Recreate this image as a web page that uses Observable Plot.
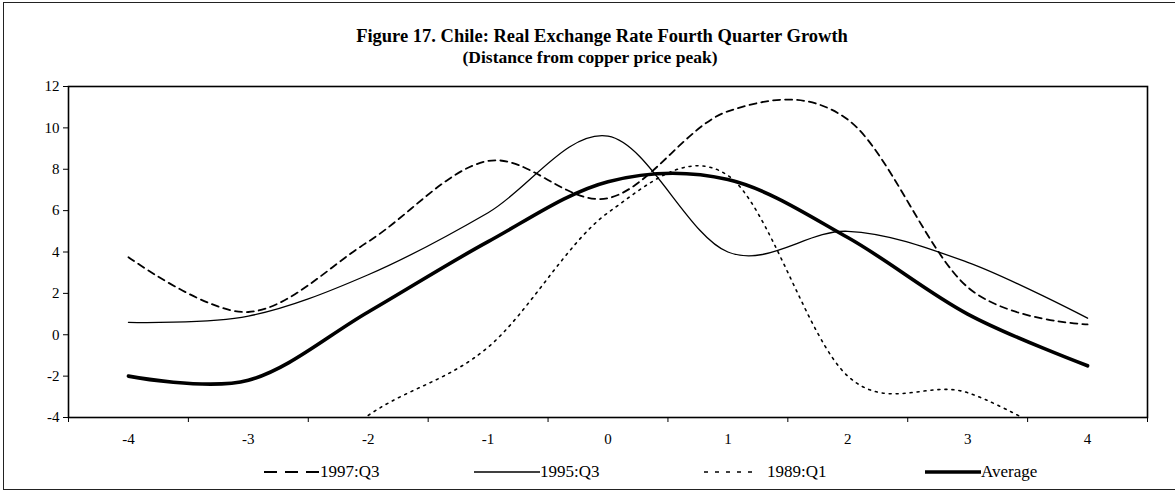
<!DOCTYPE html>
<html><head><meta charset="utf-8">
<script src="https://cdn.jsdelivr.net/npm/d3@7"></script>
<script src="https://cdn.jsdelivr.net/npm/@observablehq/plot@0.6"></script>
<style>
body{margin:0;background:#fff;}
#wrap{position:relative;width:1175px;height:495px;overflow:hidden;font-family:"Liberation Serif","Times New Roman",serif;color:#000;}
#border{position:absolute;left:3px;top:2px;width:1200px;height:486px;border:1.5px solid #222;}
.ttl{position:absolute;white-space:nowrap;font-weight:bold;line-height:20px;transform:translateX(-50%);}
#chart{position:absolute;left:0;top:0;}
.leg{position:absolute;top:462px;height:20px;display:flex;align-items:center;font-size:17px;white-space:nowrap;}
.leg svg{display:block;}
</style></head>
<body>
<div id="wrap">
  <div id="border"></div>
  <div id="chart"></div>
  <div class="ttl" style="left:602px;top:26px;font-size:18.5px;">Figure 17. Chile: Real Exchange Rate Fourth Quarter Growth</div>
  <div class="ttl" style="left:590px;top:47px;font-size:17.5px;">(Distance from copper price peak)</div>
  <div id="legend"></div>
</div>
<script>
// ---- data ----
const periods = [-4, -3, -2, -1, 0, 1, 2, 3, 4];
const s1997Q3 = [3.75, 1.1, 4.5, 8.4, 6.6, 10.8, 10.4, 2.3, 0.5];
const s1995Q3 = [0.6, 0.9, 2.9, 5.9, 9.6, 4.0, 5.0, 3.5, 0.8];
const s1989Q1 = [-10.3, -8.6, -3.9, -0.6, 5.9, 7.7, -2.0, -2.8, -5.8];
const sAverage = [-2.0, -2.2, 1.1, 4.5, 7.4, 7.5, 4.7, 1.0, -1.5];
const seriesNames = ["1997:Q3", "1995:Q3", "1989:Q1", "Average"];
const yTicks = [-4, -2, 0, 2, 4, 6, 8, 10, 12];

const seriesValues = [s1997Q3, s1995Q3, s1989Q1, sAverage];
const styles = {
  "1997:Q3": {strokeWidth: 1.8, dash: "7,5", legDash: "13,8"},
  "1995:Q3": {strokeWidth: 1.3, dash: null, legDash: null},
  "1989:Q1": {strokeWidth: 1.6, dash: "2,5", legDash: "4,7"},
  "Average": {strokeWidth: 3.6, dash: null, legDash: null}
};
const rows = seriesNames.flatMap((name, i) => periods.map((p, j) => ({series: name, x: p, y: seriesValues[i][j]})));
const boundaries = periods.map(p => p - 0.5).concat([periods[periods.length - 1] + 0.5]);
const curve = d3.curveCardinal.tension(0);

const marks = [
  Plot.axisY({ticks: yTicks, tickSize: 5, tickPadding: 4, tickFormat: d => String(d), label: null}),
  Plot.axisX({ticks: periods, tickSize: 0, tickPadding: 16, tickFormat: d => String(d), label: null}),
  Plot.axisX({ticks: boundaries, tickSize: 5, tickFormat: () => "", label: null}),
];
seriesNames.forEach(name => {
  const st = styles[name];
  marks.push(Plot.line(rows.filter(r => r.series === name), {
    x: "x", y: "y", stroke: "black", strokeWidth: st.strokeWidth,
    strokeDasharray: st.dash || undefined, curve, clip: true
  }));
});
marks.push(Plot.frame({stroke: "black", strokeWidth: 1.6}));

const chart = Plot.plot({
  width: 1175, height: 495,
  marginLeft: 68, marginRight: 28, marginTop: 86, marginBottom: 78,
  x: {domain: [-4.5, 4.5], label: null},
  y: {domain: [-4, 12], label: null},
  style: {fontFamily: "'Liberation Serif','Times New Roman',serif", fontSize: "15px", color: "black", background: "transparent"},
  marks
});
document.getElementById("chart").appendChild(chart);

// legend
const legLeft = [264, 474, 704, 925];
const legSample = [55, 66, 52, 56];
const legGap = [1, 0, 11, 0];
const leg = d3.select("#legend");
seriesNames.forEach((name, i) => {
  const st = styles[name];
  const item = leg.append("div").attr("class", "leg").style("left", legLeft[i] + "px");
  const svg = item.append("svg").attr("width", legSample[i]).attr("height", 10);
  svg.append("line").attr("x1", 0).attr("x2", legSample[i]).attr("y1", 5).attr("y2", 5)
    .attr("stroke", "black").attr("stroke-width", st.strokeWidth)
    .attr("stroke-dasharray", st.legDash);
  item.append("span").style("margin-left", legGap[i] + "px").text(name);
});
</script>
</body></html>
